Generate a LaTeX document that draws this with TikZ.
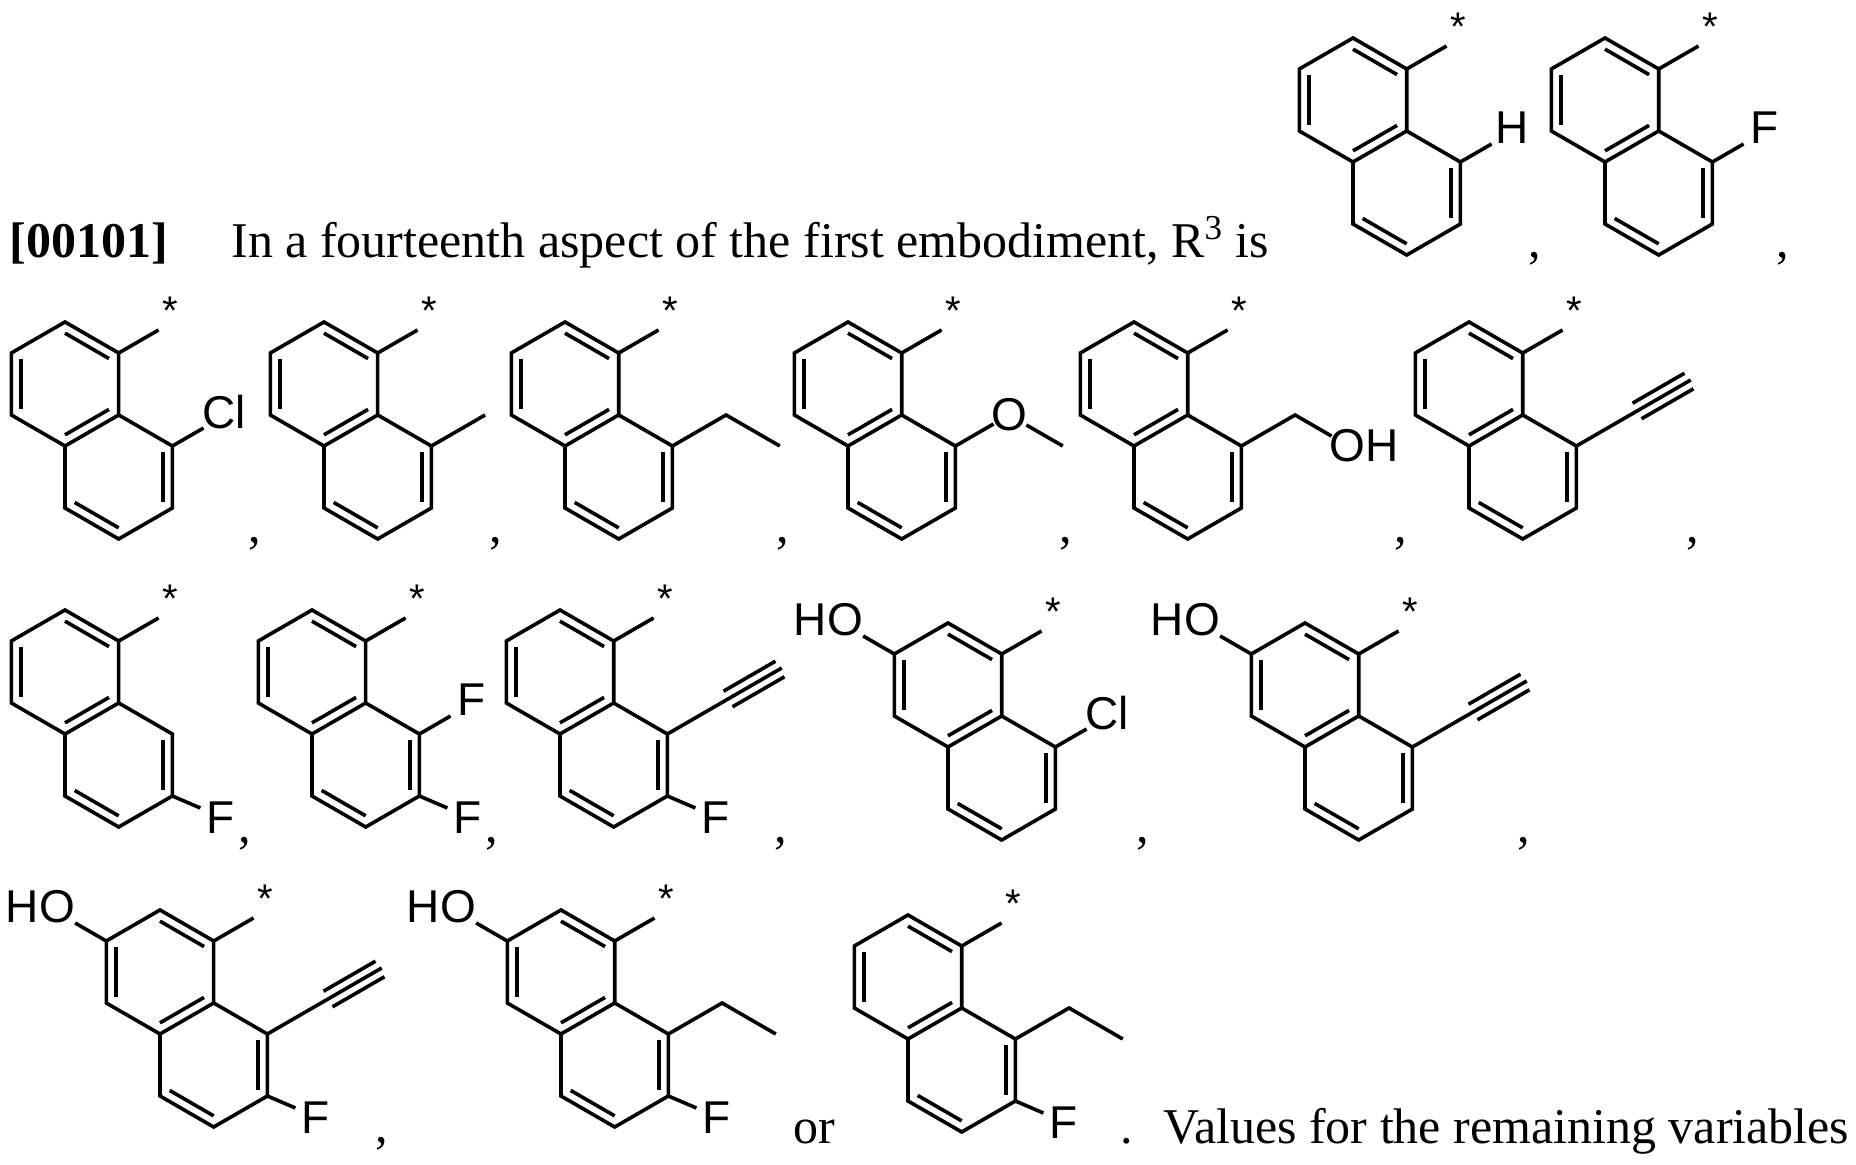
\documentclass[tikz,border=0pt]{standalone}
\usepackage{fontspec}
\setmainfont{Liberation Serif}
\newfontfamily\chemf{Liberation Sans}
\usetikzlibrary{calc}
\tikzset{
  bond/.style={line width=1.8pt, line join=miter},
  lab/.style={font=\chemf\fontsize{23}{24}\selectfont, inner sep=0pt},
  txt/.style={font=\fontsize{25}{26}\selectfont, inner sep=0pt, anchor=base west},
  punct/.style={font=\fontsize{25}{26}\selectfont, inner sep=0pt, anchor=base}
}
\newcommand\Naph[2]{%
  \coordinate (C) at (#1,#2);
  \coordinate (A1) at ($(C)+(30:62)$);
  \coordinate (A2) at ($(C)+(90:62)$);
  \coordinate (A3) at ($(C)+(150:62)$);
  \coordinate (A4) at ($(C)+(210:62)$);
  \coordinate (A5) at ($(C)+(270:62)$);
  \coordinate (A6) at ($(C)+(330:62)$);
  \coordinate (D) at ($(C)+(53.69,-93)$);
  \coordinate (B30) at ($(D)+(30:62)$);
  \coordinate (B330) at ($(D)+(330:62)$);
  \coordinate (B270) at ($(D)+(270:62)$);
  \coordinate (B210) at ($(D)+(210:62)$);
  \draw[bond] (A1)--(A2)--(A3)--(A4)--(A5)--(A6)--cycle;
  \draw[bond] (A6)--(B30)--(B330)--(B270)--(B210)--(A5);
  \draw[bond] ($(A1)!0.18!(C)$)--($(A2)!0.18!(C)$);
  \draw[bond] ($(A3)!0.18!(C)$)--($(A4)!0.18!(C)$);
  \draw[bond] ($(A5)!0.18!(C)$)--($(A6)!0.18!(C)$);
  \draw[bond] ($(B30)!0.18!(D)$)--($(B330)!0.18!(D)$);
  \draw[bond] ($(B210)!0.18!(D)$)--($(B270)!0.18!(D)$);
  \draw[bond] (A1)--($(A1)+(30:46)$);
  \node[lab,font=\chemf\fontsize{20}{21}\selectfont] (star) at ($(A1)+(52,42)$) {*};
}
\newcommand\PeriLab[1]{%
  \draw[bond] (B30)--($(B30)+(30:36)$);
  \node[lab] (peri) at ($(B30)+(52,34)$) {#1};}
\newcommand\PeriMe{\draw[bond] (B30)--($(B30)+(30:62)$);}
\newcommand\PeriEt{\draw[bond] (B30)--++(30:62)--++(-30:62);}
\newcommand\PeriOMe{%
  \coordinate (P) at ($(B30)+(30:62)$);
  \draw[bond] (B30)--($(B30)+(30:44)$);
  \node[lab] (ox) at (P) {O};
  \draw[bond] ($(P)+(-30:20)$)--($(P)+(-30:62)$);}
\newcommand\PeriOH{%
  \coordinate (P) at ($(B30)+(30:62)$);
  \draw[bond] (B30)--(P)--($(P)+(-30:42)$);
  \node[lab] (oh) at ($(P)+(-30:62)+(15,0)$) {OH};}
\newcommand\PeriYne{%
  \coordinate (P) at ($(B30)+(30:62)$);
  \draw[bond] (B30)--(P)--($(P)+(30:70)$);
  \draw[bond] ($(P)+(120:9)+(30:8)$)--($(P)+(120:9)+(30:68)$);
  \draw[bond] ($(P)+(300:9)+(30:8)$)--($(P)+(300:9)+(30:68)$);}
\newcommand\SevenF{%
  \draw[bond] (B330)--($(B330)+(28,-12)$);
  \node[lab] (sf) at ($(B330)+(48,-22)$) {F};}
\newcommand\HOgrp{%
  \draw[bond] (A3)--($(A3)+(150:36)$);
  \node[lab] (ho) at ($(A3)+(-66,34)$) {HO};}
\begin{document}
\begin{tikzpicture}[x=0.5pt,y=0.5pt]
\useasboundingbox (0,0) rectangle (1856,1164);
% text line 1
\node[txt,font=\bfseries\fontsize{25}{26}\selectfont] (num) at (9,906) {[00101]};
\node[txt] (t1) at (231,906) {In a fourteenth aspect of the first embodiment, R\textsuperscript{3} is};
% row 1
\Naph{1353}{1064}\PeriLab{H}
\Naph{1605}{1064}\PeriLab{F}
\node[punct] (c1) at (1535,906) {,};
\node[punct] (c2) at (1783,906) {,};
% row 2
\Naph{65}{780}\PeriLab{Cl}
\Naph{324}{780}\PeriMe
\Naph{565}{780}\PeriEt
\Naph{848}{780}\PeriOMe
\Naph{1134}{780}\PeriOH
\Naph{1469}{780}\PeriYne
\foreach \x [count=\i] in {255,496,783,1066,1401,1693} \node[punct] (r2c\i) at (\x,622) {,};
% row 3
\Naph{65}{492}\SevenF
\Naph{312}{492}\PeriLab{F}\SevenF
\Naph{560}{492}\PeriYne\SevenF
\Naph{948}{479}\PeriLab{Cl}\HOgrp
\Naph{1305}{479}\PeriYne\HOgrp
\foreach \x [count=\i] in {245,492,781,1143,1524} \node[punct] (r3c\i) at (\x,322) {,};
% row 4
\Naph{160}{192}\PeriYne\SevenF\HOgrp
\Naph{561}{192}\PeriEt\SevenF\HOgrp
\Naph{908}{187}\PeriEt\SevenF
\node[punct] (r4c) at (382,22) {,};
\node[txt] (or) at (793,21) {or};
\node[punct] (dot) at (1127,21) {.};
\node[txt] (vals) at (1163,21) {Values for the remaining variables};
\end{tikzpicture}
\end{document}
